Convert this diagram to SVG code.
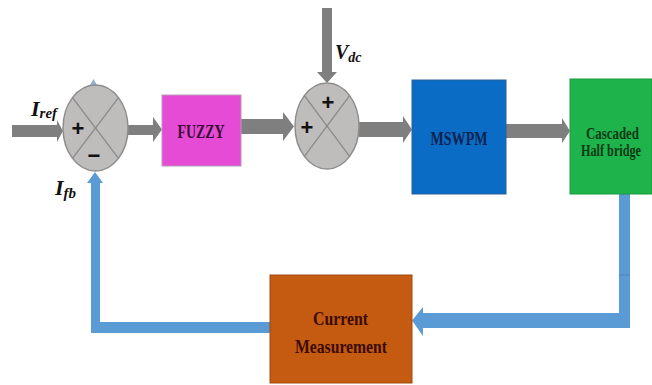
<svg xmlns="http://www.w3.org/2000/svg" width="652" height="385" viewBox="0 0 652 385">
<style>
.arr{fill:#7f7f7f}
.fb{fill:#5b9bd5}
.sum{fill:#bfbcbc;stroke:#8e8e8e;stroke-width:1.5}
.x{stroke:#8a8a8a;stroke-width:1.3}
.lbl{font-family:"Liberation Serif",serif;font-weight:bold;font-size:19px;text-anchor:middle}
.sm{font-size:16px}
.sig{font-family:"Liberation Serif",serif;font-weight:bold;font-style:italic;fill:#111}
.sgn{font-family:"Liberation Sans",Arial,sans-serif;font-weight:bold;font-size:22px;fill:#111;text-anchor:middle}
</style>
<rect width="652" height="385" fill="#ffffff"/>
<g id="connectors">
<polygon class="arr" points="12,125 57,125 57,120 63,131 57,142 57,137 12,137"/>
<polygon class="arr" points="128,125 153,125 153,117 162,129.5 153,142 153,135 128,135"/>
<polygon class="arr" points="241,119 283,119 283,112 294,126.5 283,141 283,134 241,134"/>
<polygon class="arr" points="359,122 403,122 403,116 412,129.5 403,143 403,137 359,137"/>
<polygon class="arr" points="506,124 562,124 562,118 570,131 562,143 562,138 506,138"/>
<polygon class="arr" points="322,8 332,8 332,72 337,72 327,83 317,72 322,72"/>
<path class="fb" d="M619,194 L630,194 L630,328 L423,328 L423,336 L412,320.5 L423,307 L423,313 L619,313 Z"/>
<line x1="619" y1="275" x2="630" y2="275" stroke="#4a7fb5" stroke-width="0.8"/>
<path class="fb" d="M270,322 L270,333 L91,333 L91,183 L87,183 L95,172 L103,183 L100,183 L100,322 Z"/>
<path d="M90,85 L93.5,79 L97,85 Z" fill="#8fb2d6"/>
</g>
<g id="sum1">
<ellipse class="sum" cx="95.5" cy="128" rx="32.5" ry="43"/>
<line class="x" x1="72.5" y1="97.6" x2="118.5" y2="158.4"/>
<line class="x" x1="118.5" y1="97.6" x2="72.5" y2="158.4"/>
<text class="sgn" x="78" y="136">+</text>
<text class="sgn" x="94" y="163">−</text>
</g>
<g id="sum2">
<ellipse class="sum" cx="327" cy="126" rx="32" ry="43"/>
<line class="x" x1="304.4" y1="95.6" x2="349.6" y2="156.4"/>
<line class="x" x1="349.6" y1="95.6" x2="304.4" y2="156.4"/>
<text class="sgn" x="328" y="110">+</text>
<text class="sgn" x="307" y="135">+</text>
</g>
<g id="fuzzy">
<rect x="162" y="95" width="79" height="71" fill="#e64bd6" stroke="#b99ab5" stroke-width="1"/>
<text class="lbl" x="201" y="138" fill="#3a0a35" font-size="20" textLength="47" lengthAdjust="spacingAndGlyphs">FUZZY</text>
</g>
<g id="mswpm">
<rect x="412" y="80" width="94" height="114" fill="#0b6cc6" stroke="#2b5f9a" stroke-width="1"/>
<text class="lbl" x="459" y="145" fill="#0d2350" font-size="20" textLength="57" lengthAdjust="spacingAndGlyphs">MSWPM</text>
</g>
<g id="cascaded">
<rect x="570" y="79" width="82" height="115" fill="#1fb34b" stroke="#1a9a40" stroke-width="1"/>
<text class="lbl sm" x="612.5" y="139" fill="#0b3a16" textLength="53" lengthAdjust="spacingAndGlyphs">Cascaded</text>
<text class="lbl sm" x="611" y="156" fill="#0b3a16" textLength="60" lengthAdjust="spacingAndGlyphs">Half bridge</text>
</g>
<g id="current">
<rect x="270" y="275" width="142" height="108" fill="#c55a11" stroke="#a24a10" stroke-width="1"/>
<text class="lbl" x="340.5" y="325" fill="#3a0c04" textLength="55" lengthAdjust="spacingAndGlyphs">Current</text>
<text class="lbl" x="341" y="353" fill="#3a0c04" textLength="92" lengthAdjust="spacingAndGlyphs">Measurement</text>
</g>
<g id="labels">
<text class="sig" x="31" y="116" font-size="22">I<tspan font-size="15" dy="2">ref</tspan></text>
<text class="sig" x="55" y="195" font-size="22">I<tspan font-size="15" dy="3">fb</tspan></text>
<text class="sig" x="335" y="59" font-size="20">V<tspan font-size="14" dy="3">dc</tspan></text>
</g>
</svg>
